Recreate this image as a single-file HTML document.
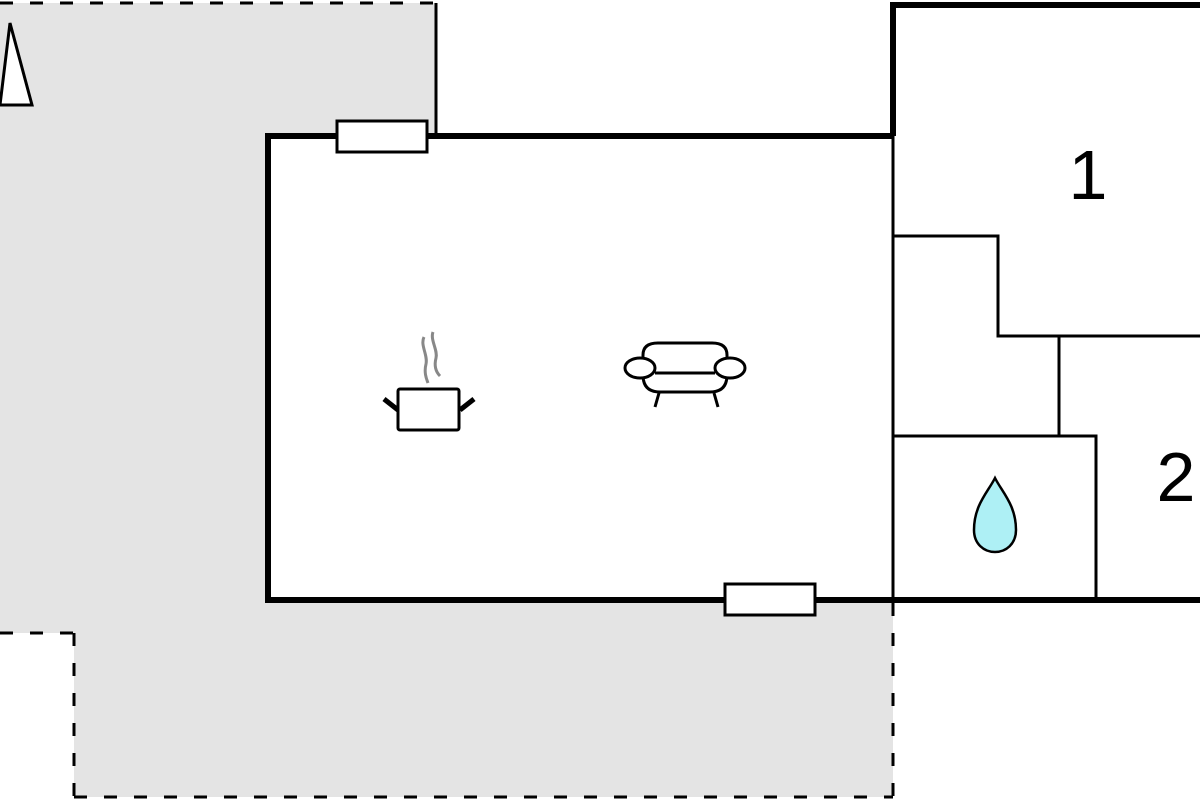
<!DOCTYPE html>
<html><head><style>html,body{margin:0;padding:0;background:#fff;}svg{display:block}</style></head>
<body>
<svg width="1200" height="800" viewBox="0 0 1200 800" xmlns="http://www.w3.org/2000/svg">
<polygon points="0,3 436,3 436,136 268,136 268,600 893,600 893,797 74,797 74,633 0,633" fill="#e4e4e4"/>
<rect x="268" y="136" width="625" height="464" fill="#fff"/>
<g stroke="#000" stroke-width="3" stroke-dasharray="13 17" fill="none">
<line x1="0" y1="3" x2="436" y2="3"/>
<line x1="0" y1="633" x2="74" y2="633"/>
<line x1="74" y1="633" x2="74" y2="797"/>
<line x1="74" y1="797" x2="893" y2="797"/>
<line x1="893" y1="603" x2="893" y2="797"/>
</g>
<line x1="436" y1="3" x2="436" y2="136" stroke="#000" stroke-width="3"/>
<polygon points="0,105 10,23 32,105" fill="#fff" stroke="#000" stroke-width="3"/>
<g stroke="#000" stroke-width="6" fill="none">
<polyline points="893,136 268,136 268,600 1200,600"/>
<polyline points="893,136 893,5 1200,5"/>
</g>
<g stroke="#000" stroke-width="3" fill="none">
<line x1="893" y1="136" x2="893" y2="605"/>
<polyline points="893,236 998,236 998,336 1200,336"/>
<line x1="1059" y1="336" x2="1059" y2="436"/>
<polyline points="893,436 1096,436 1096,600"/>
</g>
<rect x="337" y="121" width="90" height="31" fill="#fff" stroke="#000" stroke-width="3"/>
<rect x="725" y="584" width="90" height="31" fill="#fff" stroke="#000" stroke-width="3"/>
<text x="1088" y="199" font-family="Liberation Sans, sans-serif" font-size="70" text-anchor="middle">1</text>
<text x="1176" y="501" font-family="Liberation Sans, sans-serif" font-size="70" text-anchor="middle">2</text>
<path d="M995,478 C1002,492 1016,505 1016,530 C1016,544 1006,552 995,552 C984,552 974,544 974,530 C974,505 988,492 995,478 Z" fill="#aef0f5" stroke="#000" stroke-width="2.5"/>
<g fill="none">
<path d="M424,337 C420,345 428,355 426,364 C424,372 426,378 428,383" stroke="#888" stroke-width="3"/>
<path d="M433,332 C430,340 438,350 436,358 C434,366 436,372 440,376" stroke="#888" stroke-width="3"/>
<rect x="398" y="389" width="61" height="41" rx="2" stroke="#000" stroke-width="3" fill="#fff"/>
<line x1="384" y1="399" x2="398" y2="410" stroke="#000" stroke-width="5"/>
<line x1="474" y1="399" x2="460" y2="410" stroke="#000" stroke-width="5"/>
</g>
<g stroke="#000" stroke-width="3" fill="#fff">
<path d="M643,362 L643,355 Q643,343 658,343 L712,343 Q727,343 727,355 L727,362"/>
<path d="M643,375 Q643,392 660,392 L710,392 Q727,392 727,375"/>
<line x1="655" y1="373" x2="715" y2="373"/>
<ellipse cx="640" cy="368" rx="15" ry="10"/>
<ellipse cx="730" cy="368" rx="15" ry="10"/>
<line x1="659" y1="393" x2="655" y2="407"/>
<line x1="714" y1="393" x2="718" y2="407"/>
</g>
</svg>
</body></html>
